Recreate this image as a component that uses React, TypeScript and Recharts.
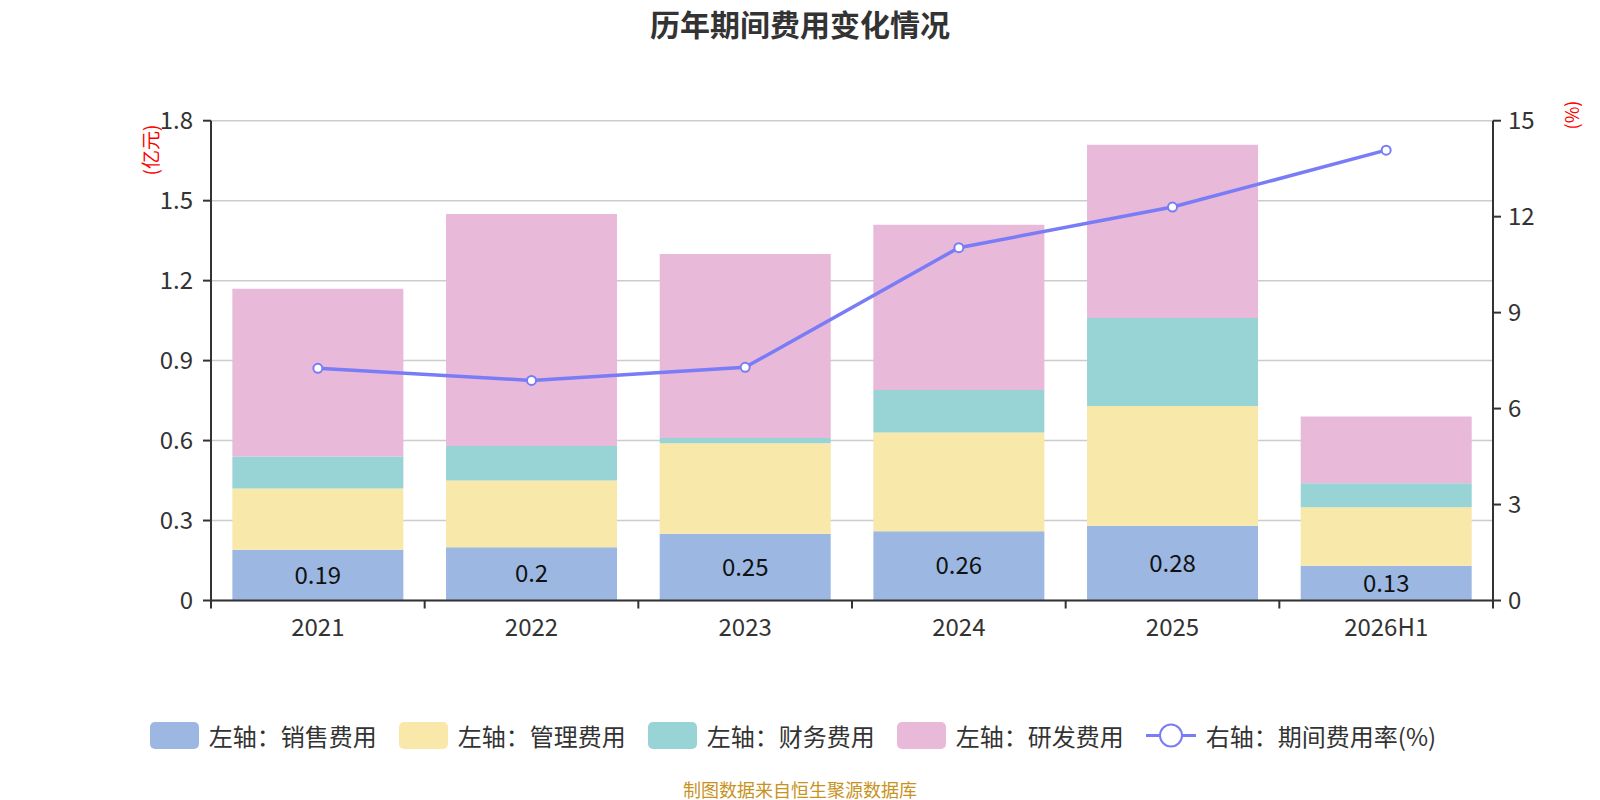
import React from "react";
import { Bar, CartesianGrid, ComposedChart, LabelList, Line, XAxis, YAxis } from "recharts";

const years = ["2021", "2022", "2023", "2024", "2025", "2026H1"];
const salesCost = [0.19, 0.2, 0.25, 0.26, 0.28, 0.13];
const adminCost = [0.23, 0.25, 0.34, 0.37, 0.45, 0.22];
const financeCost = [0.12, 0.13, 0.02, 0.16, 0.33, 0.09];
const rdCost = [0.63, 0.87, 0.69, 0.62, 0.65, 0.25];
const expenseRate = [7.26, 6.88, 7.29, 11.03, 12.3, 14.08];

const leftTicks = [0, 0.3, 0.6, 0.9, 1.2, 1.5, 1.8];
const rightTicks = [0, 3, 6, 9, 12, 15];

const data = years.map((year, i) => ({
  year,
  sales: salesCost[i],
  admin: adminCost[i],
  finance: financeCost[i],
  rd: rdCost[i],
  rate: expenseRate[i],
}));

const FONT = '"Noto Sans CJK SC", "Noto Sans", sans-serif';
const LINE = "#787cf6";
const COLORS = { sales: "#9cb8e2", admin: "#f8e8a9", finance: "#98d4d5", rd: "#e8b9d9" };

const PLOT_LEFT = 211;
const PLOT_RIGHT = 1493;
const BAND = (PLOT_RIGHT - PLOT_LEFT) / years.length;
const TICK_SIZE = 8;
const X_TICK_MARGIN = 8;

// category boundary ticks, like the source chart
function XTick(props: any) {
  const { x, y, payload, index } = props;
  const axisY = y - TICK_SIZE - X_TICK_MARGIN;
  const left = x - BAND / 2;
  const right = x + BAND / 2;
  return (
    <g>
      <line x1={left} x2={left} y1={axisY} y2={axisY + TICK_SIZE} stroke="#333" strokeWidth={2} />
      {index === years.length - 1 && (
        <line x1={right} x2={right} y1={axisY} y2={axisY + TICK_SIZE} stroke="#333" strokeWidth={2} />
      )}
      <text x={x} y={y} dy="0.8em" textAnchor="middle" fill="#333" fontSize={24} fontFamily={FONT}>
        {payload.value}
      </text>
    </g>
  );
}

const legendItems = [
  { label: "左轴：销售费用", color: COLORS.sales },
  { label: "左轴：管理费用", color: COLORS.admin },
  { label: "左轴：财务费用", color: COLORS.finance },
  { label: "左轴：研发费用", color: COLORS.rd },
];

export default function App() {
  return (
    <div style={{ position: "absolute", left: 0, top: 0, width: 1600, height: 800, background: "#fff", fontFamily: FONT }}>
      <div
        style={{
          position: "absolute",
          top: 7,
          width: 1600,
          textAlign: "center",
          fontSize: 30,
          lineHeight: "32px",
          fontWeight: "bold",
          color: "#333",
        }}
      >
        历年期间费用变化情况
      </div>

      <ComposedChart
        width={1600}
        height={800}
        data={data}
        barCategoryGap="10%"
        margin={{ top: 120.7, right: 27, bottom: 149.5, left: 0 }}
      >
        <CartesianGrid yAxisId="left" vertical={false} stroke="#ccc" strokeWidth={1.5} />
        <XAxis
          dataKey="year"
          height={50}
          tickLine={false}
          tickSize={TICK_SIZE}
          tickMargin={X_TICK_MARGIN}
          axisLine={{ stroke: "#333", strokeWidth: 2 }}
          tick={<XTick />}
          interval={0}
        />
        <YAxis
          yAxisId="left"
          orientation="left"
          width={211}
          domain={[0, 1.8]}
          ticks={leftTicks}
          interval={0}
          tickSize={TICK_SIZE}
          tickMargin={10}
          axisLine={{ stroke: "#333", strokeWidth: 2 }}
          tickLine={{ stroke: "#333", strokeWidth: 2 }}
          tick={{ fill: "#333", fontSize: 24, fontFamily: FONT }}
        />
        <YAxis
          yAxisId="right"
          orientation="right"
          width={80}
          domain={[0, 15]}
          ticks={rightTicks}
          interval={0}
          tickSize={TICK_SIZE}
          tickMargin={7}
          axisLine={{ stroke: "#333", strokeWidth: 2 }}
          tickLine={{ stroke: "#333", strokeWidth: 2 }}
          tick={{ fill: "#333", fontSize: 24, fontFamily: FONT }}
        />
        <Bar yAxisId="left" dataKey="sales" stackId="cost" fill={COLORS.sales} isAnimationActive={false}>
          <LabelList dataKey="sales" position="center" fill="#111" fontSize={24} fontFamily={FONT} />
        </Bar>
        <Bar yAxisId="left" dataKey="admin" stackId="cost" fill={COLORS.admin} isAnimationActive={false} />
        <Bar yAxisId="left" dataKey="finance" stackId="cost" fill={COLORS.finance} isAnimationActive={false} />
        <Bar yAxisId="left" dataKey="rd" stackId="cost" fill={COLORS.rd} isAnimationActive={false} />
        <Line
          yAxisId="right"
          dataKey="rate"
          stroke={LINE}
          strokeWidth={3.5}
          dot={{ r: 4.5, fill: "#fff", stroke: LINE, strokeWidth: 2 }}
          activeDot={false}
          isAnimationActive={false}
        />
      </ComposedChart>

      <div
        style={{
          position: "absolute",
          left: 149,
          top: 150,
          transform: "translate(-50%, -50%) rotate(-90deg)",
          color: "red",
          fontSize: 19,
          whiteSpace: "nowrap",
        }}
      >
        (亿元)
      </div>
      <div
        style={{
          position: "absolute",
          left: 1571,
          top: 115,
          transform: "translate(-50%, -50%) rotate(-90deg)",
          color: "red",
          fontSize: 18,
          whiteSpace: "nowrap",
        }}
      >
        (%)
      </div>

      <div
        style={{
          position: "absolute",
          top: 722,
          left: 0,
          width: 1586,
          display: "flex",
          justifyContent: "center",
          alignItems: "center",
          gap: 22,
          color: "#333",
          fontSize: 24,
          lineHeight: "27px",
        }}
      >
        {legendItems.map((item) => (
          <div key={item.label} style={{ display: "flex", alignItems: "center" }}>
            <div style={{ width: 49, height: 27, borderRadius: 5, background: item.color, marginRight: 10 }} />
            <span>{item.label}</span>
          </div>
        ))}
        <div style={{ display: "flex", alignItems: "center" }}>
          <svg width={50} height={27} style={{ marginRight: 10 }}>
            <line x1={0} x2={50} y1={13.5} y2={13.5} stroke={LINE} strokeWidth={3} />
            <circle cx={25} cy={13.5} r={11} fill="#fff" stroke={LINE} strokeWidth={2} />
          </svg>
          <span>右轴：期间费用率(%)</span>
        </div>
      </div>

      <div
        style={{
          position: "absolute",
          top: 779,
          width: 1600,
          textAlign: "center",
          fontSize: 18,
          lineHeight: "20px",
          color: "#c8921e",
        }}
      >
        制图数据来自恒生聚源数据库
      </div>
    </div>
  );
}
